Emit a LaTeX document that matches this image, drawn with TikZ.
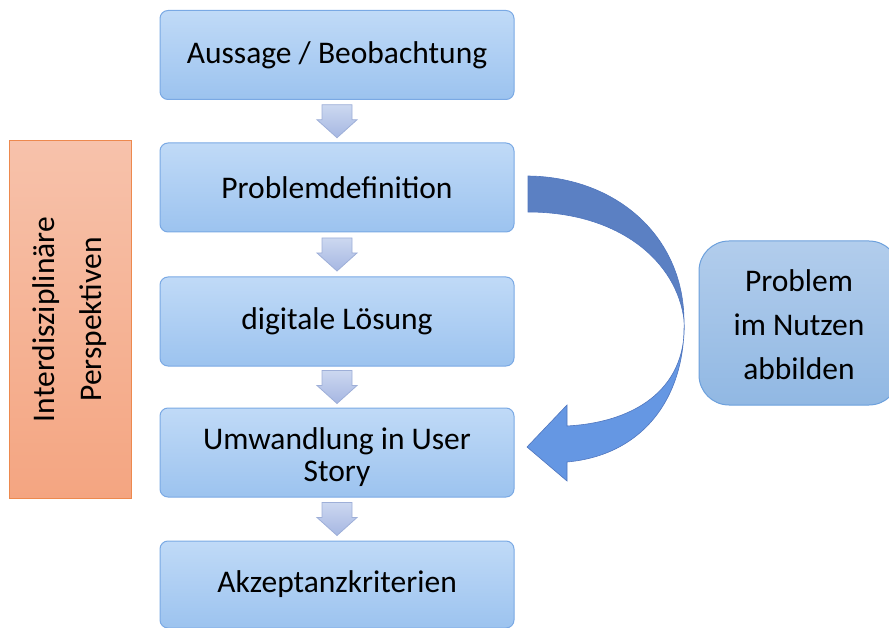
\documentclass[tikz,border=0pt]{standalone}
\usepackage{fontspec}
\setmainfont{Carlito}
\usetikzlibrary{calc}
\definecolor{boxtop}{RGB}{192,218,247}
\definecolor{boxbot}{RGB}{156,195,239}
\definecolor{boxborder}{RGB}{122,169,228}
\definecolor{ortop}{RGB}{247,194,171}
\definecolor{orbot}{RGB}{244,165,129}
\definecolor{orborder}{RGB}{237,137,78}
\definecolor{rtop}{RGB}{178,205,236}
\definecolor{rbot}{RGB}{145,184,227}
\definecolor{rborder}{RGB}{108,160,220}
\definecolor{satop}{RGB}{204,216,240}
\definecolor{sabot}{RGB}{166,183,226}
\definecolor{saborder}{RGB}{158,175,216}
\definecolor{cupper}{RGB}{91,128,195}
\definecolor{clower}{RGB}{101,151,227}
\definecolor{cedge}{RGB}{80,118,190}
\begin{document}
\begin{tikzpicture}[x=1pt,y=-1pt,
  stepbox/.style={draw=boxborder, line width=1pt, rounded corners=8pt,
    top color=boxtop, bottom color=boxbot, minimum width=354pt,
    minimum height=89pt, inner sep=0pt, align=center,
    font=\fontsize{31.5}{32}\selectfont},
  sidebox/.style={draw=orborder, line width=1pt, top color=ortop,
    bottom color=orbot, minimum width=122pt, minimum height=357pt, inner sep=0pt},
  rightbox/.style={draw=rborder, line width=1pt, rounded corners=30pt,
    top color=rtop, bottom color=rbot, minimum width=200pt,
    minimum height=164pt, inner sep=0pt},
  smallarrow/.style={draw=saborder, line width=0.8pt, top color=satop, bottom color=sabot},
  bigtext/.style={align=center, font=\fontsize{31.5}{44}\selectfont, inner sep=0pt}
]
\useasboundingbox (0,0) rectangle (889,628);
\clip (0,0) rectangle (889,628);

\node[stepbox] (b1) at (337,55) {Aussage / Beobachtung};
\node[stepbox] (b2) at (337,187.5) {Problemdefinition};
\node[stepbox] (b3) at (337,321.5) {digitale Lösung};
\node[stepbox] (b4) at (337,452.5) {\rule{0pt}{32pt}Umwandlung in User\\Story};
\node[stepbox, minimum height=87pt] (b5) at (337,584.5) {Akzeptanzkriterien};

\node[sidebox] (side) at (70,319.5) {};
\node[bigtext, font=\fontsize{31.5}{47}\selectfont, rotate=90] (sidetext) at (side.center) {Interdisziplinäre\\Perspektiven};

\node[rightbox] (rb) at (799,323) {};
\node[bigtext] (rbtext) at ([yshift=-2pt]rb.center) {Problem\\im Nutzen\\abbilden};

% small block arrows between the boxes
\foreach \a/\b in {b1/b2, b2/b3, b3/b4, b4/b5}{
  \draw[smallarrow, shift={($(\a.south)!0.5!(\b.north)$)}]
    (-15,-16.5) -- (15,-16.5) -- (15,-1.5) -- (20,-1.5) -- (0,16.5)
    -- (-20,-1.5) -- (-15,-1.5) -- cycle;
}

% curved arrow from Problemdefinition to User Story
\coordinate (ca) at (528,176);
\coordinate (cb) at (528,212);
\coordinate (cm) at (684,320);
\fill[cupper, draw=cedge, line width=0.6pt] (ca) .. controls (615,177) and (683,235) .. (cm)
  .. controls (677,262) and (620,212) .. (cb) -- cycle;
\fill[clower, draw=cedge, line width=0.6pt] (cm)
  .. controls (688,385) and (640,422) .. (567,426)
  -- (567,405) -- (527,447) -- (567,481) -- (567,462)
  .. controls (645,455) and (686,395) .. (cm) -- cycle;
\end{tikzpicture}
\end{document}
